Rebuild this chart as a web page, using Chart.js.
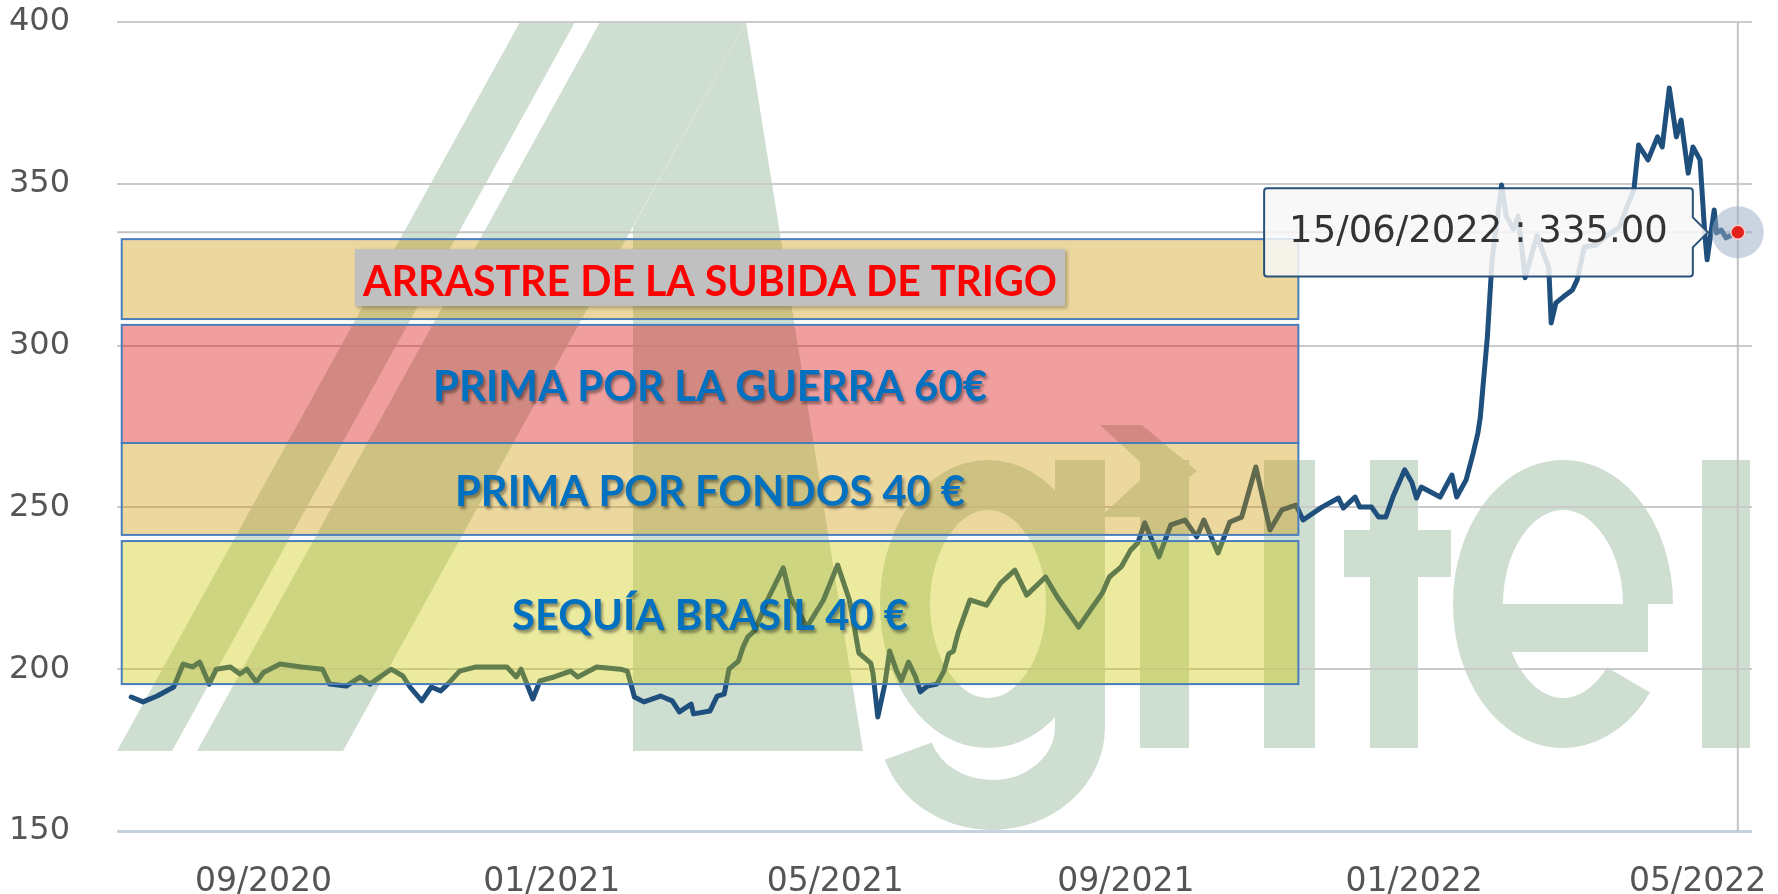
<!DOCTYPE html>
<html>
<head>
<meta charset="utf-8">
<script src="https://cdn.jsdelivr.net/npm/chart.js@4.4.1/dist/chart.umd.min.js"></script>
<style>
  html, body { margin: 0; padding: 0; background: #fff; }
  #wrap { width: 1778px; height: 894px; }
</style>
</head>
<body>
<div id="wrap"><canvas id="chart" width="1778" height="894"></canvas></div>
<script>
// days counted from 01/07/2020
const days = [
    6, 11, 17, 24, 28, 32, 35, 39, 42, 48, 52, 55, 59, 62, 69, 78, 87, 90, 97, 103,
    107, 116, 121, 124, 129, 133, 137, 140, 145, 152, 165, 169, 171, 176, 179, 185, 192, 195, 203, 213,
    216, 219, 223, 230, 235, 238, 243, 244, 251, 254, 257, 259, 263, 265, 267, 270, 275, 282, 285, 292,
    299, 305, 310, 314, 319, 320, 322, 325, 327, 330, 332, 335, 338, 340, 343, 347, 350, 352, 354, 356,
    361, 368, 374, 380, 385, 393, 398, 407, 412, 417, 420, 425, 429, 432, 435, 441, 446, 452, 457, 460,
    466, 471, 476, 482, 488, 493, 499, 502, 510, 517, 519, 524, 526, 531, 534, 537, 540, 545, 548, 550,
    552, 557, 560, 565, 567, 571, 574, 576, 577, 580, 582, 586, 588, 591, 593, 596, 601, 604, 606, 607,
    609, 612, 616, 618, 621, 626, 630, 636, 639, 642, 644, 648, 652, 654, 657, 660, 662, 665, 667, 670,
    672, 673, 676, 677, 679, 681, 686
];
const prices = [
    191.4, 189.9, 191.7, 194.5, 201.6, 200.7, 202.2, 195.4, 200, 200.7, 198.5, 200, 196, 199, 201.6, 200.7, 200, 195.4, 194.8, 197.6,
    195.4, 200, 197.9, 194.5, 190.2, 194.5, 193.3, 195.4, 199.4, 200.7, 200.7, 197.6, 200, 190.8, 196.4, 197.6, 199.4, 197.6, 200.7, 200,
    199.4, 191.4, 189.9, 191.7, 190.2, 186.8, 189.2, 186.2, 187.1, 191.7, 192.3, 200, 202.5, 206.9, 210, 212, 221, 231.3, 222.3, 213,
    221.4, 232.2, 221.4, 205, 201.9, 198.5, 185.2, 195.4, 205.6, 199.4, 196.4, 202.2, 197.6, 193, 194.8, 195.4, 199.4, 204.7, 205.6, 211.2,
    221.4, 219.8, 226.6, 230.6, 222.9, 228.5, 222.3, 213, 218.3, 223.5, 228.5, 231.6, 236.8, 239, 245.2, 234.7, 244.6, 246.1, 240.9, 246.1,
    235.9, 245.5, 247, 262.5, 243, 249.2, 250.7, 246.1, 250.1, 252.9, 249.8, 253.2, 250.1, 250.1, 247, 247, 253.2, 261.6, 257.8, 252.9,
    256.3, 254.4, 253.2, 260, 253.2, 258.5, 266.8, 273, 277.9, 302.7, 326.5, 349.6, 340, 336, 340, 321, 334, 328, 324, 307,
    313.2, 315, 317.2, 320.3, 330.5, 331, 333.6, 336.7, 342.8, 348.1, 362, 357.4, 364.5, 361.4, 379.6, 364.5, 369.7, 353.3, 361.4, 357.4,
    334.8, 326.5, 341.9, 334.8, 335.7, 333.3, 335
];

const tickDays = [62, 184, 304, 427, 549, 669];
const tickLabels = ['09/2020', '01/2021', '05/2021', '09/2021', '01/2022', '05/2022'];

const bandLabels = ['ARRASTRE DE LA SUBIDA DE TRIGO', 'PRIMA POR LA GUERRA 60€', 'PRIMA POR FONDOS 40 €', 'SEQUÍA BRASIL 40 €'];
const bandLow = [308.2, 269.9, 241.5, 195.4];
const bandHigh = [332.9, 306.4, 269.9, 239.6];
const bandFrom = 2;
const bandTo = 500;

const tooltipDate = '15/06/2022';

const bandFills = ['rgba(205,150,0,0.38)', 'rgba(215,0,0,0.38)', 'rgba(205,150,0,0.38)', 'rgba(205,200,0,0.38)'];
const bandTextColors = ['#ff0000', '#0070c0', '#0070c0', '#0070c0'];
const bandTextMax = [694, 554, 510, 396];

// faint company logo behind the plot
const watermark = {
    id: 'watermark',
    beforeDraw(chart) {
        const ctx = chart.ctx;
        const a = chart.chartArea;
        ctx.save();
        ctx.beginPath();
        ctx.rect(a.left, a.top, a.right - a.left, a.bottom - a.top);
        ctx.clip();
        ctx.fillStyle = 'rgb(206,222,208)';
        ctx.strokeStyle = 'rgb(206,222,208)';
        const polys = [
            [[117, 751], [172, 751], [575, 22], [520, 22]],
            [[197, 751], [343, 751], [746, 22], [600, 22]],
            [[633, 751], [863, 751], [746, 22], [633, 227]],
            [[1100, 425], [1142, 425], [1197, 471], [1142, 517], [1100, 517], [1150, 471]]
        ];
        polys.forEach(p => {
            ctx.beginPath();
            p.forEach((pt, i) => i ? ctx.lineTo(pt[0], pt[1]) : ctx.moveTo(pt[0], pt[1]));
            ctx.closePath();
            ctx.fill();
        });
        ctx.lineWidth = 50;
        // g
        ctx.beginPath();
        ctx.ellipse(988, 604, 83, 119, 0, 0, Math.PI * 2);
        ctx.stroke();
        ctx.fillRect(1055, 460, 50, 270);
        ctx.beginPath();
        ctx.ellipse(992, 727, 88, 78, 0, 0, Math.PI * 0.9);
        ctx.stroke();
        // r, i
        ctx.fillRect(1140, 460, 49, 288);
        ctx.fillRect(1264, 460, 51, 288);
        // t
        ctx.fillRect(1370, 460, 48, 288);
        ctx.fillRect(1344, 530, 107, 47);
        // e
        ctx.beginPath();
        ctx.ellipse(1563, 604, 85, 119, 0, Math.PI * 0.22, Math.PI * 2);
        ctx.stroke();
        ctx.fillRect(1478, 604, 170, 48);
        // l
        ctx.fillRect(1702, 460, 48, 288);
        ctx.restore();
    }
};

const bands = {
    id: 'bands',
    afterDatasetsDraw(chart) {
        const ctx = chart.ctx;
        const x = chart.scales.x, y = chart.scales.y;
        const x0 = x.getPixelForValue(bandFrom);
        const x1 = x.getPixelForValue(bandTo);
        bandLabels.forEach((label, i) => {
            const top = y.getPixelForValue(bandHigh[i]);
            const bottom = y.getPixelForValue(bandLow[i]);
            ctx.save();
            ctx.fillStyle = bandFills[i];
            ctx.fillRect(x0, top, x1 - x0, bottom - top);
            ctx.strokeStyle = '#4a7ebb';
            ctx.lineWidth = 2;
            ctx.strokeRect(x0, top, x1 - x0, bottom - top);

            const cx = (x0 + x1) / 2;
            const cy = (top + bottom) / 2;
            ctx.font = 'bold 42px Lato';
            ctx.textAlign = 'center';
            ctx.textBaseline = 'alphabetic';
            const w = Math.min(ctx.measureText(label).width, bandTextMax[i]);
            if (i === 0) {
                ctx.save();
                ctx.shadowColor = 'rgba(0,0,0,0.3)';
                ctx.shadowBlur = 4;
                ctx.shadowOffsetX = 2;
                ctx.shadowOffsetY = 2;
                ctx.fillStyle = '#c0c0c0';
                ctx.fillRect(cx - w / 2 - 8, cy - 30, w + 16, 57);
                ctx.restore();
            } else {
                ctx.shadowColor = 'rgba(0,0,0,0.4)';
                ctx.shadowBlur = 3;
                ctx.shadowOffsetX = 2;
                ctx.shadowOffsetY = 3;
            }
            ctx.fillStyle = bandTextColors[i];
            ctx.fillText(label, cx, cy + 17, bandTextMax[i]);
            ctx.restore();
        });
    }
};

// crosshair and highlighted last point
const focus = {
    id: 'focus',
    beforeDatasetsDraw(chart) {
        const ctx = chart.ctx;
        const a = chart.chartArea;
        const pt = chart.getDatasetMeta(0).data[prices.length - 1];
        ctx.save();
        ctx.strokeStyle = '#c4c4c4';
        ctx.lineWidth = 2;
        ctx.beginPath();
        ctx.moveTo(a.left, pt.y);
        ctx.lineTo(a.right, pt.y);
        ctx.moveTo(pt.x, a.top);
        ctx.lineTo(pt.x, a.bottom);
        ctx.stroke();
        ctx.restore();
    },
    afterDatasetsDraw(chart) {
        const ctx = chart.ctx;
        const pt = chart.getDatasetMeta(0).data[prices.length - 1];
        ctx.save();
        ctx.fillStyle = 'rgba(150,172,196,0.5)';
        ctx.beginPath();
        ctx.arc(pt.x, pt.y, 26, 0, Math.PI * 2);
        ctx.fill();
        ctx.fillStyle = '#e3231b';
        ctx.strokeStyle = '#f4d0d0';
        ctx.lineWidth = 1.5;
        ctx.beginPath();
        ctx.arc(pt.x, pt.y, 7, 0, Math.PI * 2);
        ctx.fill();
        ctx.stroke();
        ctx.restore();
    }
};

const chart = new Chart(document.getElementById('chart'), {
    type: 'line',
    data: {
        datasets: [{
            data: days.map((d, i) => ({ x: d, y: prices[i] })),
            borderColor: '#1f4f7c',
            borderWidth: 5,
            borderJoinStyle: 'round',
            borderCapStyle: 'round',
            pointRadius: 0,
            pointHoverRadius: 0,
            tension: 0,
            fill: false
        }]
    },
    options: {
        responsive: false,
        animation: false,
        events: [],
        layout: { padding: { top: 22, right: 26, bottom: 0, left: 0 } },
        scales: {
            x: {
                type: 'linear',
                min: 0,
                max: 692,
                grid: { display: false },
                border: { display: false },
                afterBuildTicks: s => { s.ticks = tickDays.map(v => ({ value: v })); },
                afterFit: s => { s.paddingLeft = 0; s.paddingRight = 0; s.height = 63; },
                ticks: {
                    autoSkip: false,
                    maxRotation: 0,
                    padding: 24,
                    color: '#555',
                    font: { family: 'DejaVu Sans', size: 33 },
                    callback: v => tickLabels[tickDays.indexOf(v)]
                }
            },
            y: {
                min: 150,
                max: 400,
                afterFit: s => { s.width = 117; s.paddingTop = 0; s.paddingBottom = 0; },
                grid: {
                    drawTicks: false,
                    color: c => c.tick.value === 150 ? '#c6d2de' : '#cacaca',
                    lineWidth: c => c.tick.value === 150 ? 3 : 2
                },
                border: { display: false },
                ticks: {
                    stepSize: 50,
                    padding: 47,
                    color: '#555',
                    font: { family: 'DejaVu Sans', size: 32 }
                }
            }
        },
        plugins: {
            legend: { display: false },
            tooltip: {
                enabled: true,
                backgroundColor: 'rgba(247,247,247,0.86)',
                borderColor: '#28527a',
                borderWidth: 2,
                cornerRadius: 3,
                caretSize: 15,
                caretPadding: 30,
                xAlign: 'right',
                yAlign: 'center',
                displayColors: false,
                padding: { left: 25, right: 25, top: 22, bottom: 22 },
                bodyColor: '#333',
                bodyFont: { family: 'DejaVu Sans', size: 37 },
                callbacks: {
                    title: () => '',
                    label: c => tooltipDate + ' : ' + c.parsed.y.toFixed(2)
                }
            }
        }
    },
    plugins: [watermark, bands, focus]
});

const lastIdx = prices.length - 1;
const lastPt = chart.getDatasetMeta(0).data[lastIdx];
chart.tooltip.setActiveElements([{ datasetIndex: 0, index: lastIdx }], { x: lastPt.x, y: lastPt.y });
chart.update();
</script>
</body>
</html>
